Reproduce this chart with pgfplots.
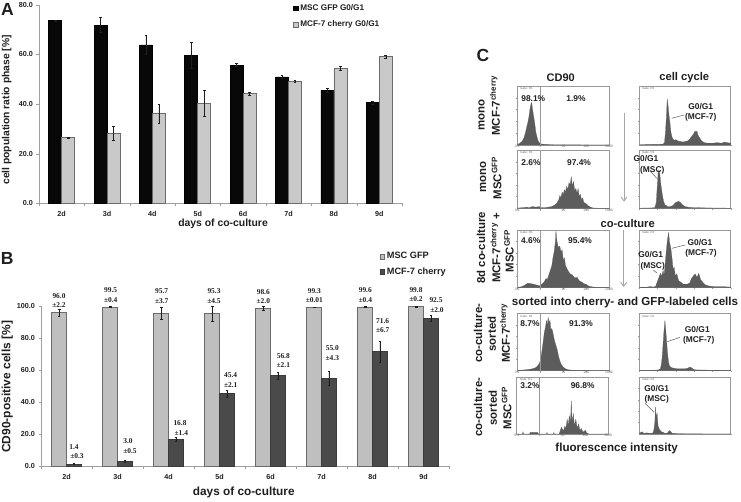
\documentclass[border=0pt]{standalone}
\usepackage{fontspec}
\setmainfont{Liberation Sans}
\newfontfamily\serf{Liberation Serif}
\usepackage{pgfplots}
\pgfplotsset{compat=1.18}
\usetikzlibrary{arrows.meta}

\definecolor{ink}{gray}{0.12}
\definecolor{barblack}{gray}{0.03}
\definecolor{barlight}{gray}{0.79}
\definecolor{bargrey}{gray}{0.75}
\definecolor{bardark}{gray}{0.29}
\definecolor{edgegrey}{gray}{0.42}
\definecolor{histfill}{gray}{0.36}
\definecolor{boxgrey}{gray}{0.6}

\newcommand{\fs}[1]{\fontsize{#1}{#1}\selectfont}
% text at image pixel position (origin top left)
\newcommand{\lab}[4][]{\node[inner sep=0pt,text=ink,font=\bfseries,#1] at (#2pt,-#3pt) {#4};}
\newcommand{\nr}[3]{\node[inner sep=0pt,text=ink,font=\serf\bfseries\fs{7.4}] at (#1pt,-#2pt) {#3};}
\newcommand{\lead}[4]{\draw[gray!70!black,line width=0.5pt] (#1pt,-#2pt) -- (#3pt,-#4pt);}
\newcommand{\rowlab}[3]{\lab[rotate=90,font=\bfseries\fs{11.4}]{#1}{#2}{#3}}
\newcommand{\pct}[3]{\lab[font=\bfseries\fs{8.4}]{#1}{#2}{#3}}
\newcommand{\peak}[3]{\lab[font=\bfseries\fs{8.4}]{#1}{#2}{#3}}

\tikzset{gatenote/.style={font=\fs{3},text=gray!80!black,inner sep=0pt,anchor=north west}}

\pgfplotsset{
  barpanel/.style={
    scale only axis,
    anchor=south west,
    ybar=0pt,
    axis x line*=bottom,
    axis y line*=left,
    axis line style={gray!75,-},
    xmin=0.5,xmax=8.5,
    xtick={1,2,3,4,5,6,7,8},
    xticklabels={2d,3d,4d,5d,6d,7d,8d,9d},
    minor xtick={0.5,1.5,2.5,3.5,4.5,5.5,6.5,7.5,8.5},
    major x tick style={draw=none},
    minor tick length=2.5pt,
    minor tick style={gray!75},
    ytick style={gray!75},
    major tick length=2.5pt,
    tick align=outside,
    tick label style={font=\bfseries\fs{7.2},text=ink},
    xticklabel style={yshift=-1.5pt},
    clip=false,
    legend cell align=left,
  },
  barstyle/.style 2 args={fill=#1,draw=#2,line width=0.7pt,
    error bars/.cd,y dir=both,y explicit,
    error bar style={ink,line width=0.5pt},
    error mark options={rotate=90,ink,mark size=1.4pt,line width=0.5pt}},
  swatch/.style={legend image code/.code={
    \draw[##1,line width=0.5pt] (0pt,-2.3pt) rectangle (4.6pt,2.3pt);}},
  flow/.style={
    scale only axis,
    anchor=south west,
    width=91.5pt,
    ymin=0,ymax=100,
    axis line style={boxgrey,line width=0.7pt},
    ytick={20,40,60,80},
    yticklabels={},
    ytick pos=left,
    xtick pos=bottom,
    tick align=outside,
    major tick length=1.2pt,
    tick style={gray!80,line width=0.3pt},
    clip=true,
  },
  flowcd/.style={flow,
    xmin=-1,xmax=3,
    xtick={-1,0,1,2,3},
    xticklabels={0.1,1,10,100,1000},
    xticklabel style={font=\fs{3.4},text=gray!80!black,yshift=1.5pt,inner sep=0.6pt},
    yticklabel style={font=\fs{3}},
  },
  flowcc/.style={flow,
    xmin=0,xmax=100,
    xtick={0,20,40,60,80,100},
    xticklabels={},
  },
  hist/.style={fill=histfill,draw=histfill,line width=0.2pt,no markers},
}

% x, bottom y, height, coordinates
\newcommand{\cdhist}[4]{%
  \begin{axis}[flowcd,at={(#1pt,-#2pt)},height=#3pt]
    \addplot[hist] coordinates {#4} \closedcycle;
    \addplot[boxgrey,line width=0.8pt] coordinates {(0,0)(0,100)};
    \node[gatenote] at (rel axis cs:0.03,0.975) {Gate: R1};
  \end{axis}}
\newcommand{\cchist}[4]{%
  \begin{axis}[flowcc,at={(#1pt,-#2pt)},height=#3pt]
    \addplot[hist] coordinates {#4} \closedcycle;
    \node[gatenote] at (rel axis cs:0.03,0.975) {Gate: R1};
  \end{axis}}

\begin{document}
\begin{tikzpicture}
\path[use as bounding box] (0pt,-501pt) rectangle (741pt,0pt);

% ---- A
\begin{axis}[barpanel,swatch,
  at={(39pt,-203.3pt)},width=363pt,height=198.6pt,
  ymin=0,ymax=80,ytick={0,20,40,60,80},
  yticklabels={0.0,20.0,40.0,60.0,80.0},
  bar width=13pt,
  xlabel={days of co-culture},
  ylabel={cell population ratio phase [\%]},
  xlabel style={at={(axis description cs:0.507,-0.103)},anchor=center,font=\bfseries\fs{10.4},text=ink},
  ylabel style={at={(axis description cs:-0.089,0.47)},anchor=center,font=\bfseries\fs{10.3},text=ink},
  legend style={at={(0.70,1.012)},anchor=north west,draw=none,fill=none,
    font=\bfseries\fs{8.2},text=ink,inner sep=0pt,row sep=5pt,
    legend cell align=left},
]
\addplot+[barstyle={barblack}{black}] coordinates {
  (1,73.6) +- (0,0.2) (2,71.8) +- (0,3.0) (3,63.8) +- (0,3.8) (4,59.6) +- (0,5.2)
  (5,55.7) +- (0,0.6) (6,50.9) +- (0,0.5) (7,45.6) +- (0,0.9) (8,40.7) +- (0,0.6)};
\addplot+[barstyle={barlight}{edgegrey}] coordinates {
  (1,26.4) +- (0,0.2) (2,28.1) +- (0,2.8) (3,36.2) +- (0,3.8) (4,40.4) +- (0,5.3)
  (5,44.3) +- (0,0.6) (6,49.1) +- (0,0.5) (7,54.4) +- (0,0.9) (8,59.2) +- (0,0.6)};
\legend{MSC GFP G0/G1,MCF-7 cherry G0/G1}
\end{axis}

% ---- B
\begin{axis}[barpanel,swatch,
  at={(41pt,-466.3pt)},width=408pt,height=160pt,
  ymin=0,ymax=100,ytick={0,20,40,60,80,100},
  yticklabels={0.0,20.0,40.0,60.0,80.0,100.0},
  bar width=14.8pt,
  xlabel={days of co-culture},
  ylabel={CD90-positive cells [\%]},
  xlabel style={at={(axis description cs:0.497,-0.165)},anchor=center,font=\bfseries\fs{11.8},text=ink},
  ylabel style={at={(axis description cs:-0.0826,0.496)},anchor=center,font=\bfseries\fs{12},text=ink},
  legend style={at={(0.83,1.35)},anchor=north west,draw=none,fill=none,
    font=\bfseries\fs{9.2},text=ink,inner sep=0pt,row sep=3.5pt,
    legend cell align=left},
]
\addplot+[barstyle={bargrey}{edgegrey}] coordinates {
  (1,96.0) +- (0,2.2) (2,99.5) +- (0,0.4) (3,95.7) +- (0,3.7) (4,95.3) +- (0,4.5)
  (5,98.6) +- (0,1.2) (6,99.3) +- (0,0.01) (7,99.6) +- (0,0.4) (8,99.8) +- (0,0.2)};
\addplot+[barstyle={bardark}{bardark!80!black}] coordinates {
  (1,1.4) +- (0,0.3) (2,3.0) +- (0,0.5) (3,16.8) +- (0,1.4) (4,45.4) +- (0,2.1)
  (5,56.8) +- (0,2.1) (6,55.0) +- (0,4.3) (7,71.6) +- (0,6.7) (8,92.5) +- (0,2.0)};
\legend{MSC GFP,MCF-7 cherry}
\end{axis}

\nr{59}{295.7}{96.0}\nr{59}{305.3}{±2.2}
\nr{74}{446.7}{1.4}\nr{77}{456.3}{±0.3}
\nr{110.7}{290}{99.5}\nr{110.7}{299.7}{±0.4}
\nr{128}{441.3}{3.0}\nr{130}{451}{±0.5}
\nr{161.7}{291.3}{95.7}\nr{161.7}{301}{±3.7}
\nr{180}{423}{16.8}\nr{181.3}{432.7}{±1.4}
\nr{214}{291}{95.3}\nr{214}{300.7}{±4.5}
\nr{230.7}{375.3}{45.4}\nr{230.7}{385.3}{±2.1}
\nr{263.3}{291.7}{98.6}\nr{263.3}{301.3}{±2.0}
\nr{283.3}{355.7}{56.8}\nr{283.3}{365.3}{±2.1}
\nr{314.3}{290.7}{99.3}\nr{314.3}{300.3}{±0.01}
\nr{332.3}{348.3}{55.0}\nr{332.3}{358}{±4.3}
\nr{365.3}{290}{99.6}\nr{365.3}{299.7}{±0.4}
\nr{382.7}{320.7}{71.6}\nr{382.7}{330.3}{±6.7}
\nr{416}{289.7}{99.8}\nr{416}{299.3}{±0.2}
\nr{436}{300}{92.5}\nr{437}{310}{±2.0}

% ---- C, CD90 column
\cdhist{517.5}{145}{59}{(-1,1)(-.9,3)(-.8,6)(-.72,12)(-.66,20)(-.6,30)(-.55,38)(-.5,48)(-.46,60)(-.42,68)(-.38,72)(-.34,60)(-.3,50)(-.25,38)(-.2,22)(-.15,14)(-.1,7)(-.05,4)(0,2)(.1,1.5)(.3,.8)(.6,.4)(1,.3)(3,.2)}
\cdhist{517.5}{208.3}{58.3}{(-1,.5)(-.8,1)(-.6,2)(-.5,1)(-.35,3)(-.2,2)(-.05,3)(0,1)(.2,1)(.35,2)(.5,3)(.6,5)(.7,8)(.8,14)(.85,22)(.9,18)(.95,28)(1,24)(1.05,32)(1.1,28)(1.15,38)(1.2,32)(1.25,44)(1.3,40)(1.35,54)(1.4,38)(1.45,46)(1.5,30)(1.55,34)(1.6,26)(1.65,34)(1.7,20)(1.75,24)(1.8,14)(1.85,18)(1.9,10)(2,8)(2.1,4)(2.2,2)(2.3,.5)(2.5,.3)(3,.2)}
\cdhist{517.5}{287.7}{57.7}{(-1,.5)(-.85,1.5)(-.7,4)(-.55,8)(-.4,7)(-.3,6)(-.2,5)(-.1,4)(0,3)(.05,6)(.15,9)(.25,16)(.3,14)(.4,26)(.45,32)(.5,38)(.55,52)(.6,62)(.65,78)(.68,99)(.72,82)(.78,70)(.85,72)(.9,62)(.95,66)(1,48)(1.05,52)(1.1,38)(1.2,30)(1.3,24)(1.4,22)(1.5,17)(1.6,18)(1.7,12)(1.8,10)(1.9,7)(2,6)(2.1,3)(2.2,2)(2.4,.5)(3,.2)}
\cdhist{517.5}{370.5}{57}{(-1,.3)(-.7,1)(-.5,2)(-.35,3)(-.2,5)(-.1,9)(-.03,14)(.03,24)(.08,38)(.12,50)(.17,66)(.22,76)(.27,88)(.3,78)(.34,93)(.38,84)(.42,88)(.46,70)(.5,74)(.56,64)(.62,52)(.68,44)(.74,36)(.8,24)(.86,16)(.92,10)(1,6)(1.1,3)(1.25,1)(1.5,.4)(3,.1)}
\cdhist{516.8}{434}{57}{(-1,0)(-.75,0)(-.73,4)(-.7,0)(-.45,0)(-.4,3)(-.2,3)(-.1,3)(-.05,0)(.3,0)(.32,3)(.34,0)(.6,0)(.62,3)(.64,0)(.85,0)(.9,6)(.95,12)(1,8)(1.05,6)(1.1,14)(1.15,10)(1.2,26)(1.25,16)(1.3,32)(1.35,20)(1.38,58)(1.42,20)(1.47,36)(1.52,14)(1.58,26)(1.64,10)(1.7,18)(1.76,6)(1.82,10)(1.88,4)(1.94,4)(2,7)(2.05,2)(2.15,0)(3,0)}

% ---- C, cell cycle column
\cchist{639.3}{145}{59}{(0,.5)(10,.8)(20,1)(26,1.5)(27.5,4)(28.5,20)(29.5,45)(30.5,78)(31.5,66)(32.5,50)(33.5,38)(34.5,22)(36,12)(38,8)(40,9)(42,7)(45,6)(48,5)(50,6)(53,7)(55,10)(57,14)(59,18)(61,24)(62,21)(63,24)(64,17)(66,12)(68,7)(71,4)(75,3)(80,3)(85,4)(90,3)(93,5)(96,4)(100,3)}
\cchist{639.3}{208.3}{58.3}{(0,.3)(10,.5)(17,1)(18.5,10)(19.5,35)(20.5,60)(21.5,66)(22.5,58)(23.5,42)(25,25)(26.5,12)(28,6)(31,3)(34,3)(37,5)(39,9)(41,11)(43,12)(45,10)(47,6)(50,3)(55,1.5)(65,1)(80,.5)(100,.3)}
\cchist{639.3}{287.7}{57.7}{(0,.5)(8,1)(12,2)(16,1)(18,3)(20,12)(21.5,18)(23,25)(24.5,20)(26,30)(27,22)(28,36)(29,55)(30.5,80)(32,96)(33,80)(34.5,68)(36,48)(37,30)(38,36)(39.5,20)(41,24)(43,12)(45,10)(48,6)(52,6)(55,8)(57,16)(59,20)(61,24)(63,18)(65,25)(67,14)(69,10)(72,5)(76,3)(82,2)(90,2)(100,1)}
\cchist{639.3}{370.5}{57}{(0,.3)(15,.5)(21,1)(23,3)(24,10)(25,24)(26,48)(27,70)(28,88)(29,70)(30,48)(31,28)(32,14)(33,8)(35,5)(38,4)(42,3)(46,3)(50,3)(53,4)(55,6)(57,5)(59,2)(62,1)(70,.8)(85,.5)(100,.3)}
\cchist{639.3}{434}{57}{(0,1)(3,4)(5,1)(8,2)(12,1)(15,2)(16,8)(17,22)(17.8,48)(18.5,30)(19.5,36)(20.5,14)(22,8)(24,4)(26,3)(28,1)(31,2)(33,6)(34.5,4)(36,1)(45,.5)(60,.3)(100,.2)}

% gray arrows between the columns
\draw[gray!70,line width=0.9pt,-{Straight Barb[length=4pt,width=6pt]}] (624pt,-112.7pt) -- (624pt,-201.7pt);
\draw[gray!70,line width=0.9pt,-{Straight Barb[length=4pt,width=6pt]}] (623.7pt,-230pt) -- (623.7pt,-287pt);

% panel letters and headings
\lab[font=\bfseries\fs{17.5}]{7.5}{9.5}{A}
\lab[font=\bfseries\fs{17.5}]{7.3}{258}{B}
\lab[font=\bfseries\fs{17.5}]{483}{55}{C}
\lab[font=\bfseries\fs{11}]{560.7}{78}{CD90}
\lab[font=\bfseries\fs{11.2}]{684.3}{78}{cell cycle}
\lab[font=\bfseries\fs{11.2}]{627.7}{223}{co-culture}
\lab[font=\bfseries\fs{11.6}]{625}{302}{sorted into cherry- and GFP-labeled cells}
\lab[font=\bfseries\fs{11.6}]{616.7}{448.3}{fluorescence intensity}

% row labels
\rowlab{481.7}{115}{mono}
\rowlab{495}{105.7}{MCF-7\textsuperscript{cherry}}
\rowlab{483}{176.7}{mono}
\rowlab{496.7}{178}{MSC\textsuperscript{GFP}}
\rowlab{481}{248}{8d co-culture}
\rowlab{495.5}{248}{MCF-7\textsuperscript{cherry} +}
\rowlab{509}{251}{MSC\textsuperscript{GFP}}
\rowlab{478}{333}{co-culture-}
\rowlab{491.7}{334}{sorted}
\rowlab{505}{333}{MCF-7\textsuperscript{cherry}}
\rowlab{478}{407}{co-culture-}
\rowlab{492.7}{408}{sorted}
\rowlab{506.7}{408}{MSC\textsuperscript{GFP}}

% gate percentages
\pct{533.3}{99}{98.1\%}
\pct{576}{99}{1.9\%}
\pct{531}{162.3}{2.6\%}
\pct{579}{162.3}{97.4\%}
\pct{530.7}{241}{4.6\%}
\pct{580}{241}{95.4\%}
\pct{530}{323.3}{8.7\%}
\pct{581}{323.3}{91.3\%}
\pct{530}{386}{3.2\%}
\pct{582.7}{386}{96.8\%}

% peak annotations
\peak{700.7}{106.7}{G0/G1}
\peak{700.7}{117.3}{(MCF-7)}
\lead{671.7}{118.3}{684}{115}
\peak{646}{159}{G0/G1}
\peak{652.3}{170}{(MSC)}
\lead{650}{170.7}{656.7}{178.3}
\peak{700}{242.7}{G0/G1}
\peak{701}{253.7}{(MCF-7)}
\lead{672}{248.3}{685}{245}
\peak{650.7}{255}{G0/G1}
\peak{652.7}{266}{(MSC)}
\lead{653.3}{270}{657.3}{273.3}
\peak{697.3}{329.3}{G0/G1}
\peak{698.7}{340}{(MCF-7)}
\lead{667.3}{341.7}{680}{337.3}
\peak{656.7}{388.7}{G0/G1}
\peak{656.7}{399.3}{(MSC)}
\lead{645}{403.3}{654}{412.3}
\end{tikzpicture}
\end{document}
